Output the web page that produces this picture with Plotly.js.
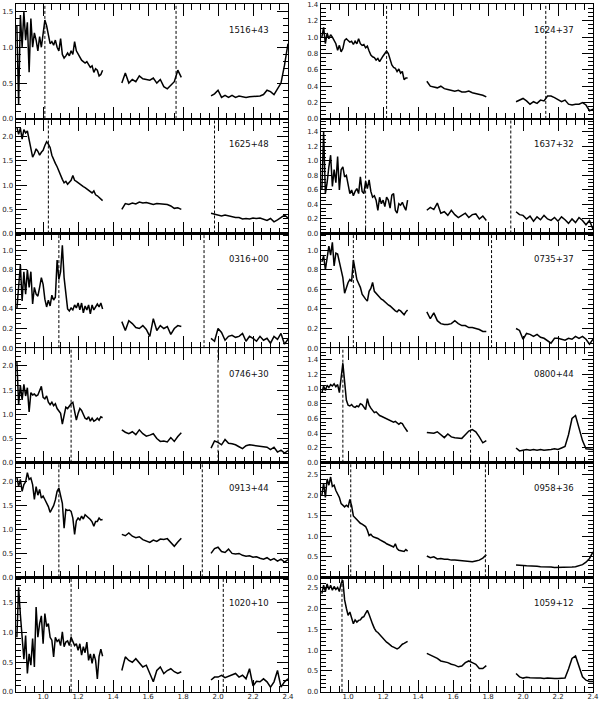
<!DOCTYPE html>
<html><head><meta charset="utf-8">
<script src="https://cdn.plot.ly/plotly-3.0.1.min.js"></script>
<style>html,body{margin:0;padding:0;background:#fff;overflow:hidden}#chart{width:600px;height:702px}</style>
</head><body><div id="chart"></div>
<script>
// wavelength grids (micron)
const WAVE_J = [0.85,0.86,0.87,0.88,0.89,0.90,0.91,0.92,0.93,0.94,0.95,0.96,0.97,0.98,0.99,1.00,1.01,1.02,1.03,1.04,1.05,1.06,1.07,1.08,1.09,1.10,1.11,1.12,1.13,1.14,1.15,1.16,1.17,1.18,1.19,1.20,1.21,1.22,1.23,1.24,1.25,1.26,1.27,1.28,1.29,1.30,1.31,1.32,1.33,1.34];
const WAVE_H = [1.45,1.47,1.49,1.51,1.53,1.55,1.57,1.59,1.61,1.63,1.65,1.67,1.69,1.71,1.73,1.75,1.77,1.79];
const WAVE_K = [1.96,1.98,2.00,2.02,2.04,2.06,2.08,2.10,2.12,2.14,2.16,2.18,2.20,2.22,2.24,2.26,2.28,2.30,2.32,2.34,2.36,2.38,2.40];

// 1516+43
const F1516_J = [1.30,0.20,1.45,1.00,1.50,1.10,1.35,0.65,1.40,1.00,1.20,1.10,0.95,1.15,1.00,1.20,1.38,1.30,1.15,1.05,1.08,1.03,1.10,1.00,0.95,1.12,0.90,0.85,0.88,0.92,0.88,0.95,0.90,1.08,0.95,0.90,0.85,0.82,0.80,0.78,0.80,0.75,0.72,0.74,0.65,0.70,0.68,0.60,0.62,0.68];
const F1516_H = [0.50,0.64,0.50,0.55,0.52,0.60,0.56,0.55,0.54,0.57,0.50,0.55,0.45,0.42,0.47,0.52,0.68,0.58];
const F1516_K = [0.32,0.35,0.40,0.30,0.33,0.30,0.33,0.30,0.32,0.31,0.30,0.31,0.31,0.31,0.32,0.34,0.40,0.38,0.34,0.42,0.50,0.75,1.05];
const L1516 = [1.01, 1.76];
// 1625+48
const F1625_J = [2.20,2.05,2.18,1.95,2.15,2.08,2.12,1.95,1.75,1.58,1.65,1.75,1.70,1.62,1.68,1.72,1.82,1.90,1.85,1.78,1.62,1.52,1.45,1.38,1.28,1.22,1.12,1.05,1.08,1.02,1.05,1.10,1.20,1.10,1.08,1.05,1.02,0.98,0.97,0.95,0.92,0.90,0.88,0.84,0.88,0.80,0.78,0.75,0.72,0.68];
const F1625_H = [0.50,0.62,0.60,0.63,0.61,0.65,0.63,0.64,0.62,0.60,0.62,0.61,0.60,0.60,0.57,0.52,0.53,0.50];
const F1625_K = [0.42,0.40,0.38,0.36,0.38,0.36,0.35,0.33,0.33,0.30,0.31,0.30,0.32,0.31,0.32,0.30,0.27,0.31,0.24,0.28,0.33,0.38,0.32];
const L1625 = [1.03, 1.98];
// 0316+00
const F0316_J = [0.40,0.62,0.85,0.48,0.78,0.55,0.80,0.62,0.78,0.45,0.62,0.55,0.53,0.62,0.72,0.65,0.50,0.42,0.49,0.43,0.54,0.49,0.52,0.90,0.70,0.78,1.05,0.72,0.52,0.40,0.38,0.41,0.39,0.44,0.41,0.46,0.39,0.46,0.36,0.43,0.39,0.44,0.35,0.44,0.39,0.42,0.45,0.42,0.46,0.40];
const F0316_H = [0.27,0.18,0.28,0.25,0.21,0.20,0.23,0.19,0.12,0.30,0.18,0.23,0.20,0.22,0.14,0.20,0.23,0.22];
const F0316_K = [0.10,0.07,0.20,0.16,0.08,0.12,0.13,0.11,0.12,0.15,0.07,0.12,0.10,0.07,0.12,0.08,0.10,0.05,0.12,0.09,0.15,0.04,0.09];
const L0316 = [1.09, 1.92];
// 0746+30
const F0746_J = [2.10,1.20,1.60,1.30,1.62,1.38,1.55,1.05,1.45,1.40,1.42,1.38,1.40,1.48,1.58,1.35,1.32,1.38,1.25,1.20,1.25,1.18,1.22,1.12,1.08,1.02,0.80,0.98,1.15,1.12,1.18,1.22,1.25,1.05,0.88,1.02,1.12,1.08,0.98,0.92,0.90,0.95,0.86,0.92,0.86,0.88,0.92,0.88,0.95,0.93];
const F0746_H = [0.68,0.63,0.60,0.64,0.58,0.68,0.60,0.55,0.57,0.60,0.50,0.44,0.45,0.43,0.52,0.44,0.54,0.62];
const F0746_K = [0.30,0.45,0.42,0.37,0.48,0.40,0.39,0.37,0.33,0.29,0.35,0.37,0.36,0.35,0.34,0.33,0.32,0.27,0.32,0.22,0.26,0.20,0.25];
const L0746 = [1.16, 2.00];
// 0913+44
const F0913_J = [2.10,1.90,2.05,1.80,1.94,2.00,2.19,2.05,2.08,1.94,1.63,1.90,1.72,1.84,1.66,1.70,1.63,1.56,1.48,1.36,1.44,1.50,1.62,1.80,1.87,1.70,1.55,1.03,1.42,1.40,1.41,1.38,1.24,0.90,1.18,1.24,1.20,1.28,1.22,1.31,1.28,1.24,1.21,1.16,1.07,1.17,1.17,1.24,1.20,1.21];
const F0913_H = [0.90,0.87,0.93,0.86,0.83,0.85,0.79,0.76,0.73,0.78,0.75,0.80,0.79,0.81,0.72,0.65,0.74,0.82];
const F0913_K = [0.50,0.60,0.63,0.54,0.52,0.59,0.50,0.49,0.50,0.46,0.44,0.45,0.42,0.43,0.40,0.38,0.41,0.36,0.39,0.34,0.38,0.32,0.37];
const L0913 = [1.09, 1.91];
// 1020+10
const F1020_J = [0.92,1.76,1.30,0.98,0.55,0.95,0.31,0.64,0.45,0.90,0.42,1.43,0.92,1.15,1.28,0.81,1.32,1.10,1.15,0.92,0.87,0.59,0.92,0.85,0.88,0.78,1.01,0.76,0.84,0.86,0.78,0.92,0.84,0.78,0.81,0.70,0.81,0.62,0.76,0.66,0.84,0.53,0.64,0.48,0.64,0.53,0.22,0.60,0.72,0.60];
const F1020_H = [0.36,0.59,0.53,0.50,0.56,0.48,0.42,0.45,0.31,0.17,0.36,0.42,0.31,0.36,0.39,0.34,0.31,0.34];
const F1020_K = [0.20,0.25,0.25,0.28,0.24,0.26,0.28,0.31,0.25,0.28,0.22,0.39,0.10,0.18,0.17,0.22,0.17,0.08,0.17,0.36,0.08,0.17,0.22];
const L1020 = [1.16, 2.03];
// 1624+37
const F1624_J = [1.00,1.12,0.92,1.05,0.98,1.03,1.00,0.96,0.92,0.84,0.90,0.82,0.86,0.96,0.98,0.96,0.94,0.95,0.91,0.95,0.92,0.98,0.92,0.90,0.91,0.87,0.89,0.83,0.78,0.76,0.75,0.72,0.74,0.70,0.74,0.77,0.80,0.83,0.80,0.72,0.66,0.63,0.62,0.58,0.61,0.56,0.58,0.48,0.50,0.50];
const F1624_H = [0.46,0.40,0.39,0.38,0.40,0.37,0.36,0.35,0.34,0.35,0.33,0.33,0.34,0.32,0.31,0.30,0.29,0.27];
const F1624_K = [0.21,0.23,0.25,0.22,0.18,0.21,0.19,0.23,0.22,0.28,0.28,0.26,0.24,0.21,0.23,0.18,0.17,0.18,0.18,0.20,0.17,0.10,0.12];
const L1624 = [1.22, 2.13];
// 1637+32
const F1637_J = [0.60,1.40,0.55,0.70,0.92,1.08,0.65,0.88,0.70,1.06,0.60,0.88,0.92,0.78,0.80,0.65,0.55,0.60,0.52,0.58,0.62,0.55,0.78,0.58,0.55,0.72,0.62,0.74,0.58,0.50,0.52,0.46,0.32,0.50,0.41,0.46,0.37,0.50,0.46,0.35,0.53,0.55,0.32,0.28,0.41,0.39,0.43,0.37,0.32,0.46];
const F1637_H = [0.32,0.36,0.33,0.42,0.28,0.30,0.25,0.32,0.26,0.22,0.25,0.28,0.22,0.26,0.27,0.20,0.24,0.18];
const F1637_K = [0.30,0.26,0.25,0.20,0.24,0.17,0.23,0.19,0.25,0.20,0.18,0.22,0.17,0.23,0.19,0.14,0.20,0.15,0.22,0.18,0.12,0.18,0.06];
const L1637 = [1.10, 1.93];
// 0735+37
const F0735_J = [0.88,0.94,0.80,0.90,1.04,0.95,1.08,0.84,0.97,0.96,0.87,0.78,0.72,0.56,0.63,0.67,0.70,0.68,0.90,0.80,0.70,0.66,0.62,0.55,0.52,0.50,0.48,0.58,0.61,0.67,0.58,0.56,0.53,0.51,0.50,0.49,0.47,0.46,0.44,0.43,0.41,0.40,0.38,0.37,0.39,0.38,0.36,0.34,0.37,0.39];
const F0735_H = [0.37,0.30,0.36,0.28,0.25,0.24,0.24,0.25,0.28,0.25,0.23,0.23,0.21,0.21,0.20,0.19,0.17,0.17];
const F0735_K = [0.20,0.18,0.09,0.15,0.14,0.12,0.14,0.11,0.10,0.07,0.05,0.10,0.10,0.09,0.08,0.10,0.09,0.12,0.10,0.12,0.09,0.04,0.09];
const L0735 = [1.03, 1.82];
// 0800+44
const F0800_J = [0.95,1.04,0.98,1.05,1.02,1.06,1.04,1.07,1.03,1.06,0.95,1.15,1.35,1.10,0.85,0.78,0.77,0.79,0.76,0.75,0.77,0.76,0.80,0.79,0.76,0.72,0.87,0.78,0.74,0.70,0.68,0.69,0.66,0.64,0.63,0.62,0.61,0.60,0.58,0.58,0.57,0.55,0.56,0.54,0.52,0.54,0.53,0.49,0.46,0.42];
const F0800_H = [0.41,0.41,0.40,0.42,0.38,0.34,0.39,0.35,0.34,0.33,0.33,0.38,0.43,0.45,0.42,0.35,0.27,0.30];
const F0800_K = [0.20,0.16,0.17,0.18,0.17,0.18,0.17,0.18,0.17,0.17,0.18,0.19,0.18,0.20,0.22,0.38,0.60,0.64,0.48,0.30,0.19,0.18,0.18];
const L0800 = [0.97, 1.70];
// 0958+36
const F0958_J = [2.00,2.30,1.95,2.40,2.25,2.45,2.22,2.25,2.12,2.05,1.95,1.80,1.75,1.72,1.76,1.72,1.90,1.75,1.50,1.45,1.40,1.36,1.32,1.30,1.28,1.24,1.15,1.02,1.05,1.00,0.98,0.97,0.95,0.92,0.90,0.87,0.85,0.82,0.80,0.78,0.76,0.74,0.82,0.70,0.66,0.65,0.65,0.63,0.68,0.64];
const F0958_H = [0.52,0.48,0.50,0.45,0.46,0.44,0.44,0.42,0.42,0.41,0.40,0.39,0.38,0.38,0.40,0.42,0.47,0.55];
const F0958_K = [0.30,0.30,0.29,0.28,0.28,0.27,0.27,0.26,0.26,0.25,0.25,0.24,0.24,0.24,0.25,0.24,0.25,0.26,0.28,0.31,0.37,0.46,0.62];
const L0958 = [1.015, 1.785];
// 1059+12
const F1059_J = [2.35,2.55,2.40,2.58,2.45,2.55,2.43,2.52,2.45,2.50,2.40,2.60,2.67,2.20,2.00,1.83,1.91,1.75,1.63,1.72,1.67,1.71,1.72,1.78,1.80,1.88,1.95,1.85,1.72,1.62,1.52,1.45,1.42,1.37,1.32,1.27,1.23,1.19,1.16,1.12,1.09,1.07,1.05,1.03,1.05,1.10,1.14,1.16,1.19,1.21];
const F1059_H = [0.92,0.88,0.84,0.80,0.74,0.72,0.70,0.66,0.64,0.60,0.62,0.70,0.74,0.70,0.66,0.56,0.56,0.63];
const F1059_K = [0.44,0.36,0.33,0.35,0.34,0.33,0.33,0.33,0.32,0.33,0.32,0.32,0.32,0.32,0.33,0.55,0.80,0.86,0.58,0.36,0.28,0.25,0.25];
const L1059 = [0.965, 1.70];

const NAMES = ['1516+43','1625+48','0316+00','0746+30','0913+44','1020+10','1624+37','1637+32','0735+37','0800+44','0958+36','1059+12'];

// panel table (col 0 = left, 1 = right)
const panels = [
  {J:F1516_J,H:F1516_H,K:F1516_K,L:L1516,col:0,row:0,ymax:1.6,dt:0.5,mdt:0.1},
  {J:F1625_J,H:F1625_H,K:F1625_K,L:L1625,col:0,row:1,ymax:2.37,dt:0.5,mdt:0.1},
  {J:F0316_J,H:F0316_H,K:F0316_K,L:L0316,col:0,row:2,ymax:1.17,dt:0.2,mdt:0.05},
  {J:F0746_J,H:F0746_H,K:F0746_K,L:L0746,col:0,row:3,ymax:2.37,dt:0.5,mdt:0.1},
  {J:F0913_J,H:F0913_H,K:F0913_K,L:L0913,col:0,row:4,ymax:2.4,dt:0.5,mdt:0.1},
  {J:F1020_J,H:F1020_H,K:F1020_K,L:L1020,col:0,row:5,ymax:1.93,dt:0.5,mdt:0.1},
  {J:F1624_J,H:F1624_H,K:F1624_K,L:L1624,col:1,row:0,ymax:1.402,dt:0.2,mdt:0.05},
  {J:F1637_J,H:F1637_H,K:F1637_K,L:L1637,col:1,row:1,ymax:1.58,dt:0.2,mdt:0.05},
  {J:F0735_J,H:F0735_H,K:F0735_K,L:L0735,col:1,row:2,ymax:1.17,dt:0.2,mdt:0.05},
  {J:F0800_J,H:F0800_H,K:F0800_K,L:L0800,col:1,row:3,ymax:1.555,dt:0.2,mdt:0.05},
  {J:F0958_J,H:F0958_H,K:F0958_K,L:L0958,col:1,row:4,ymax:2.8,dt:0.5,mdt:0.1},
  {J:F1059_J,H:F1059_H,K:F1059_K,L:L1059,col:1,row:5,ymax:2.74,dt:0.5,mdt:0.1}
];

const W = 600, H = 702, TOP = 4.3, PH = 114.6;
const FONT = 'DejaVu Sans, Arial, sans-serif';
const traces = [], shapes = [], annotations = [];
const layout = {width:W, height:H, margin:{l:0,r:0,t:0,b:0}, showlegend:false,
  paper_bgcolor:'#fff', plot_bgcolor:'#fff', font:{family:FONT, color:'#111'}};

panels.forEach((p, i) => {
  const n = i + 1, s = n === 1 ? '' : String(n);
  const xa = 'x' + s, ya = 'y' + s;
  const top = TOP + p.row * PH, bot = top + PH;
  const xd = p.col === 0 ? [16/W, 288/W] : [321/W, 593/W];
  const yd = [1 - bot/H, 1 - top/H];
  traces.push({
    x: [...WAVE_J, null, ...WAVE_H, null, ...WAVE_K],
    y: [...p.J, null, ...p.H, null, ...p.K],
    xaxis: xa, yaxis: ya, type: 'scatter', mode: 'lines', connectgaps: false,
    line: {color: '#000', width: 1.5}, hoverinfo: 'skip'
  });
  const common = {ticks:'inside', tickcolor:'#000', tickwidth:1, showline:true, linecolor:'#000',
    linewidth:1.3, mirror:'allticks', showgrid:false, zeroline:false, tickformat:'.1f',
    tickfont:{family:FONT, size:7, color:'#222'}, fixedrange:true};
  layout['xaxis' + s] = Object.assign({}, common, {domain: xd, anchor: ya, range: [0.845, 2.4],
    tick0: 0, dtick: 0.2, ticklen: 12, showticklabels: p.row === 5, ticklabelstandoff: -3,
    minor: {tick0: 0, dtick: 0.05, ticks: 'inside', ticklen: 6, tickcolor: '#000', tickwidth: 1, showgrid: false}});
  layout['yaxis' + s] = Object.assign({}, common, {domain: yd, anchor: xa, range: [0, p.ymax],
    tick0: 0, dtick: p.dt, ticklen: 11,
    minor: {tick0: 0, dtick: p.mdt, ticks: 'inside', ticklen: 5, tickcolor: '#000', tickwidth: 1, showgrid: false}});
  p.L.forEach(v => shapes.push({type: 'line', xref: xa, yref: ya + ' domain', x0: v, x1: v, y0: 0, y1: 1,
    line: {color: '#000', width: 1, dash: '3px,2px'}}));
  annotations.push({xref: xa + ' domain', yref: ya + ' domain', x: 0.936, y: 0.778,
    xanchor: 'right', yanchor: 'middle', showarrow: false, text: NAMES[i],
    font: {family: FONT, size: 8.5, color: '#111'}});
});
layout.shapes = shapes;
layout.annotations = annotations;
Plotly.newPlot('chart', traces, layout, {staticPlot: true, displayModeBar: false});
</script></body></html>
